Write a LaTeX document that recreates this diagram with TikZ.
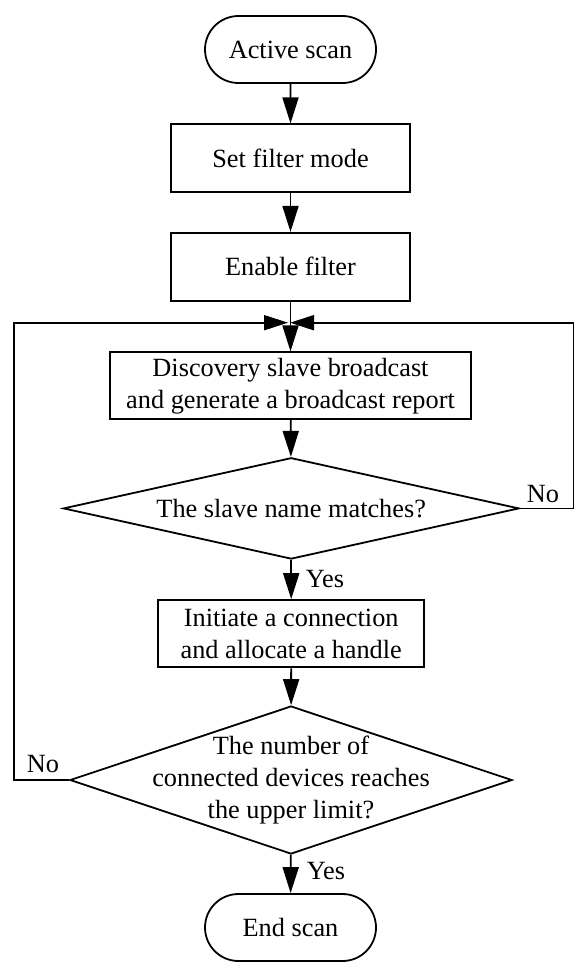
\documentclass[tikz,border=0pt]{standalone}
\usepackage{fontspec}
\setmainfont{Liberation Serif}
\usetikzlibrary{arrows.meta,shapes.geometric,shapes.misc}
\begin{document}
\begin{tikzpicture}[x=1pt,y=-1pt,
  every node/.style={font=\fontsize{26.3}{32}\selectfont},
  term/.style={draw,rounded rectangle,line width=1.8pt,minimum width=171pt,minimum height=67pt,inner sep=0pt},
  proc/.style={draw,rectangle,line width=1.8pt,inner sep=0pt,align=center},
  dia/.style={draw,diamond,line width=1.8pt,inner sep=0pt},
  txt/.style={align=center,inner sep=0pt},
  lbl/.style={anchor=base,inner sep=0pt},
  flow/.style={line width=1.8pt,-{Triangle[length=26pt,width=16pt]}},
  back/.style={line width=1.8pt,-{Triangle[length=24pt,width=15pt]}}
]
\useasboundingbox (0,0) rectangle (588,972);
\node[term] (start) at (290.5,49.5) {Active scan};
\node[proc,minimum width=239pt,minimum height=68pt] (setf) at (290.5,158.3) {Set filter mode};
\node[proc,minimum width=239pt,minimum height=68pt] (enf) at (290.5,266.8) {Enable filter};
\node[proc,minimum width=361pt,minimum height=67pt] (disc) at (290.5,385.8) {Discovery slave broadcast\\and generate a broadcast report};
\node[dia,minimum width=455.7pt,minimum height=101.3pt] (d1) at (291.2,508.4) {};
\node[txt] (d1t) at (d1.center) {The slave name matches?};
\node[proc,minimum width=265.7pt,minimum height=67.3pt] (init) at (291.2,633.7) {Initiate a connection\\and allocate a handle};
\node[dia,minimum width=442pt,minimum height=148pt] (d2) at (291,780) {};
\node[txt] (d2t) at (d2.center) {The number of\\connected devices reaches\\the upper limit?};
\node[term] (end) at (290.5,927.5) {End scan};

\coordinate (junc) at (291,322.7);
\coordinate (rtop) at (573.5,322.7);
\coordinate (ltop) at (14,322.7);

\draw[flow] (start) -- (setf);
\draw[flow] (setf) -- (enf);
\draw[flow] (enf) -- (disc);
\draw[flow] (disc) -- (d1);
\draw[flow] (d1) -- (init);
\draw[flow] (init) -- (d2);
\draw[flow] (d2) -- (end);
\draw[back,shorten >=-1pt] (d1.east) -| (rtop) -- (junc);
\draw[back,shorten >=3pt] (d2.west) -| (ltop) -- (junc);

\node[lbl] (no1) at (543,502) {No};
\node[lbl] (no2) at (43,772) {No};
\node[lbl] (yes1) at (325,587.3) {Yes};
\node[lbl] (yes2) at (326,879.3) {Yes};
\end{tikzpicture}
\end{document}
